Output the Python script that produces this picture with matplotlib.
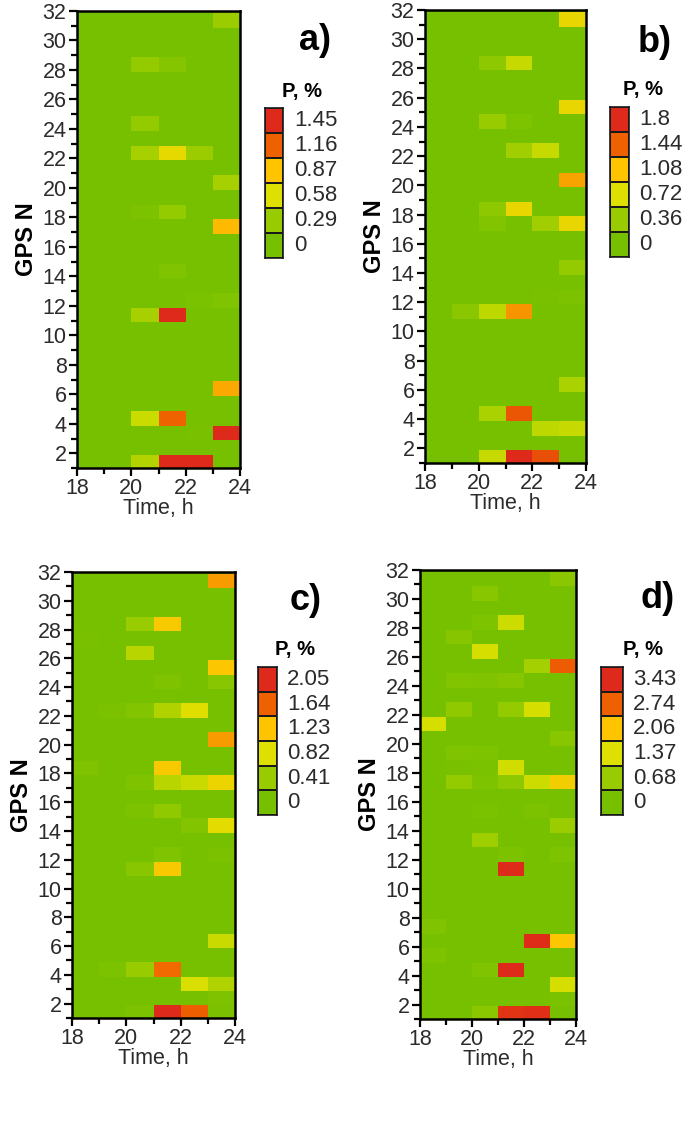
import numpy as np
import matplotlib
matplotlib.use("Agg")
import matplotlib.pyplot as plt
from matplotlib.colors import LinearSegmentedColormap

plt.rcParams['font.family'] = ['Liberation Sans', 'DejaVu Sans']

# ---------------- data ----------------
hours = [18, 19, 20, 21, 22, 23]          # start of each 1-h bin
gps = list(range(1, 33))                  # GPS satellite numbers

# sparse entries: (GPS N, hour bin start, P %)
cells_a = [(31, 23, 0.30), (28, 20, 0.25), (28, 21, 0.12), (24, 20, 0.25),
           (22, 20, 0.35), (22, 21, 0.65), (22, 22, 0.30), (20, 23, 0.35),
           (18, 20, 0.05), (18, 21, 0.25), (17, 23, 0.90), (14, 21, 0.08),
           (12, 22, 0.03), (12, 23, 0.08), (11, 20, 0.35), (11, 21, 1.45),
           (6, 23, 0.95), (4, 20, 0.50), (4, 21, 1.15), (3, 22, 0.02),
           (3, 23, 1.45), (1, 20, 0.40), (1, 21, 1.45), (1, 22, 1.45)]
cells_b = [(31, 23, 0.85), (28, 20, 0.25), (28, 21, 0.60), (25, 23, 0.85),
           (24, 20, 0.35), (24, 21, 0.08), (22, 21, 0.40), (22, 22, 0.60),
           (20, 23, 1.20), (18, 20, 0.25), (18, 21, 0.85), (17, 20, 0.12),
           (17, 22, 0.40), (17, 23, 0.85), (14, 23, 0.30), (12, 22, 0.02),
           (12, 23, 0.05), (11, 19, 0.20), (11, 20, 0.55), (11, 21, 1.25),
           (6, 23, 0.45), (4, 20, 0.45), (4, 21, 1.50), (3, 22, 0.55),
           (3, 23, 0.60), (1, 20, 0.60), (1, 21, 1.80), (1, 22, 1.55)]
cells_c = [(31, 23, 1.40), (28, 20, 0.40), (28, 21, 1.15), (27, 18, 0.03),
           (26, 20, 0.60), (25, 23, 1.20), (24, 21, 0.10), (24, 23, 0.20),
           (22, 19, 0.05), (22, 20, 0.15), (22, 21, 0.55), (22, 22, 0.85),
           (20, 23, 1.40), (18, 18, 0.10), (18, 21, 1.15), (17, 20, 0.10),
           (17, 21, 0.60), (17, 22, 0.70), (17, 23, 1.00), (15, 20, 0.08),
           (15, 21, 0.30), (14, 22, 0.15), (14, 23, 0.90), (12, 21, 0.12),
           (12, 23, 0.05), (11, 20, 0.20), (11, 21, 1.15), (6, 23, 0.70),
           (4, 19, 0.08), (4, 20, 0.40), (4, 21, 1.60), (3, 22, 0.80),
           (3, 23, 0.55), (2, 23, 0.10), (1, 20, 0.08), (1, 21, 2.05),
           (1, 22, 1.65), (1, 23, 0.05)]
cells_d = [(31, 23, 0.40), (30, 20, 0.35), (28, 20, 0.15), (28, 21, 1.20),
           (27, 19, 0.30), (26, 20, 1.30), (25, 22, 0.80), (25, 23, 2.80),
           (24, 19, 0.25), (24, 20, 0.20), (24, 21, 0.30), (22, 19, 0.50),
           (22, 21, 0.60), (22, 22, 1.30), (21, 18, 1.30), (20, 23, 0.35),
           (19, 19, 0.20), (19, 20, 0.15), (18, 19, 0.05), (18, 20, 0.08),
           (18, 21, 1.25), (17, 19, 0.60), (17, 20, 0.15), (17, 21, 0.45),
           (17, 22, 1.20), (17, 23, 1.80), (15, 20, 0.08), (15, 22, 0.10),
           (14, 23, 0.70), (13, 20, 0.75), (12, 21, 0.10), (12, 23, 0.15),
           (11, 21, 3.43), (7, 18, 0.20), (6, 22, 3.40), (6, 23, 2.00),
           (5, 18, 0.15), (4, 20, 0.20), (4, 21, 3.43), (3, 23, 1.30),
           (2, 23, 0.08), (1, 20, 0.40), (1, 21, 3.30), (1, 22, 3.35)]

levels_a = [0, 0.29, 0.58, 0.87, 1.16, 1.45]
levels_b = [0, 0.36, 0.72, 1.08, 1.44, 1.8]
levels_c = [0, 0.41, 0.82, 1.23, 1.64, 2.05]
levels_d = [0, 0.68, 1.37, 2.06, 2.74, 3.43]
level_labels_a = ['0', '0.29', '0.58', '0.87', '1.16', '1.45']
level_labels_b = ['0', '0.36', '0.72', '1.08', '1.44', '1.8']
level_labels_c = ['0', '0.41', '0.82', '1.23', '1.64', '2.05']
level_labels_d = ['0', '0.68', '1.37', '2.06', '2.74', '3.43']

# ---------------- style ----------------
cmap = LinearSegmentedColormap.from_list(
    'gyr', [(0.0, '#77c000'), (0.2, '#99cc00'), (0.4, '#dde000'),
            (0.6, '#ffc400'), (0.8, '#ee6000'), (1.0, '#dd2a1a')])
txt = '#2b2b2b'
TICK_FS = 15.5

fig = plt.figure(figsize=(6.85, 11.23), dpi=100)
W, H = 685, 1123


def frac_rect(l, t, r, b):
    return [l / W, 1 - b / H, (r - l) / W, (b - t) / H]


def grid_from(cells):
    z = np.zeros((len(gps), len(hours)))
    for g, h, v in cells:
        z[gps.index(g), hours.index(h)] = v
    return z


def panel(rect, cells, levels, labels, letter, letter_xy, title_xy,
          box, lab_x):
    ax = fig.add_axes(frac_rect(*rect))
    z = grid_from(cells)
    xe = np.array(hours + [hours[-1] + 1])
    ye = np.array(gps + [gps[-1] + 1]) - 0.13
    ax.pcolormesh(xe, ye, z, cmap=cmap, vmin=levels[0], vmax=levels[-1],
                  shading='flat')
    ax.set_xlim(18, 24)
    ax.set_ylim(1, 32)
    ax.set_xticks([18, 20, 22, 24])
    ax.set_xticks([19, 21, 23], minor=True)
    ax.set_yticks(range(2, 33, 2))
    ax.set_yticks(range(1, 33), minor=True)
    ax.tick_params(which='both', direction='out', width=1.6, colors='black',
                   labelcolor=txt, labelsize=TICK_FS)
    ax.tick_params(which='major', length=6, pad=1.5)
    ax.tick_params(which='minor', length=4)
    for s in ax.spines.values():
        s.set_linewidth(1.8)
    ax.set_xlabel('Time, h', fontsize=TICK_FS, color=txt, labelpad=-1)
    ax.set_ylabel('GPS N', fontsize=17, fontweight='bold', color='black',
                  labelpad=3)

    fig.text(letter_xy[0] / W, 1 - letter_xy[1] / H, letter, fontsize=26,
             fontweight='bold', ha='center', va='center', color='black')
    fig.text(title_xy[0] / W, 1 - title_xy[1] / H, 'P, %', fontsize=14.5,
             fontweight='bold', ha='center', va='center', color='black')

    # discrete legend boxes
    bl, bt, br, bb = box
    lax = fig.add_axes(frac_rect(bl, bt, br, bb))
    lvl = np.array(levels).reshape(-1, 1)
    lax.pcolormesh([0, 1], np.arange(len(levels) + 1), lvl, cmap=cmap,
                   vmin=levels[0], vmax=levels[-1], edgecolors='#1a1a1a',
                   linewidth=1.2)
    lax.set_xlim(0, 1)
    lax.set_ylim(0, len(levels))
    lax.set_xticks([])
    lax.set_yticks([])
    for s in lax.spines.values():
        s.set_linewidth(1.2)
        s.set_color('#1a1a1a')
    step = (bb - bt) / len(levels)
    for i, lab in enumerate(labels):
        yc = bb - (i + 0.5) * step
        fig.text(lab_x / W, 1 - yc / H, lab, fontsize=16, ha='left',
                 va='center', color=txt)
    return ax


panel((77, 11, 240, 468), cells_a, levels_a, level_labels_a, 'a)',
      (315, 40), (302, 91), (265, 108, 283, 258), 294)
panel((425, 10, 586, 463), cells_b, levels_b, level_labels_b, 'b)',
      (655, 43), (643, 89), (610, 107, 629, 257), 639)
panel((72, 572, 235, 1018), cells_c, levels_c, level_labels_c, 'c)',
      (306, 601), (295, 649), (258, 667, 277, 815), 287)
panel((420, 570, 576, 1019), cells_d, levels_d, level_labels_d, 'd)',
      (658, 599), (643, 649), (601, 667, 623, 815), 633)

fig.savefig('out.png', dpi=100)
